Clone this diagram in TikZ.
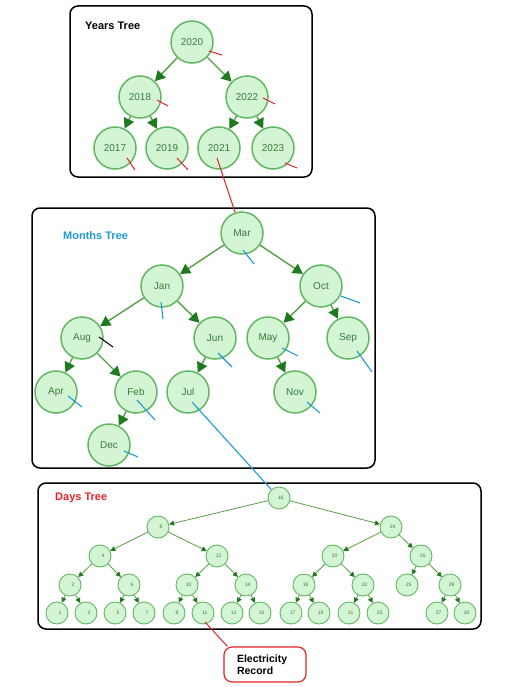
\documentclass[tikz,border=0pt]{standalone}
\usepackage{fontspec}
\setmainfont{Liberation Sans}
\usetikzlibrary{arrows.meta,calc}
\definecolor{nodefill}{HTML}{D3F5D3}
\definecolor{nodedraw}{HTML}{62B862}
\definecolor{nodetext}{HTML}{3A7A3A}
\definecolor{edgegreen}{HTML}{55A045}
\definecolor{headgreen}{HTML}{1E7A1E}
\definecolor{tickred}{HTML}{E52429}
\definecolor{tickblue}{HTML}{1E9BD7}
\begin{document}
\begin{tikzpicture}[x=1pt,y=-1pt,
 bignode/.style={circle, minimum size=42pt, inner sep=0pt, fill=nodefill, draw=nodedraw, line width=1.5pt, text=nodetext, font=\fontsize{10}{12}\selectfont},
 smallnode/.style={circle, minimum size=22pt, inner sep=0pt, fill=nodefill, draw=nodedraw, line width=0.9pt, text=nodetext, font=\fontsize{5}{6}\selectfont, text width=9pt, align=right},
 bigedge/.style={draw=edgegreen, line width=1.4pt, -{Triangle[length=10pt,width=11pt,color=headgreen]}},
 smalledge/.style={draw=edgegreen, line width=0.8pt, -{Triangle[length=5pt,width=5pt,color=headgreen]}},
 framebox/.style={draw=black, line width=1.5pt, rounded corners=8pt},
 redtick/.style={draw=tickred, line width=1pt},
 bluetick/.style={draw=tickblue, line width=1.1pt},
 blacktick/.style={draw=black, line width=1pt},
 treetitle/.style={font=\fontsize{11}{13}\selectfont\bfseries, anchor=west, inner sep=0pt},
 recbox/.style={draw=tickred, line width=1.2pt, rounded corners=8pt, fill=white, minimum width=82pt, minimum height=35pt, text width=56pt, align=left, font=\fontsize{10.5}{12.5}\selectfont\bfseries},
]
\useasboundingbox[fill=white] (0,0) rectangle (517,687);

% frames
\draw[framebox] (70,6) rectangle (312,177);
\draw[framebox] (32,208) rectangle (375,468);
\draw[framebox] (38,483) rectangle (481,629);

% titles
\node[treetitle, text=black] (tY) at (85,26) {Years Tree};
\node[treetitle, text=tickblue] (tM) at (63,236) {Months Tree};
\node[treetitle, text=tickred] (tD) at (55,498) {Days Tree};

% years
\node[bignode] (y2020) at (192,42) {2020};
\node[bignode] (y2018) at (140,97) {2018};
\node[bignode] (y2022) at (247,97) {2022};
\node[bignode] (y2017) at (115,148) {2017};
\node[bignode] (y2019) at (167,148) {2019};
\node[bignode] (y2021) at (219,148) {2021};
\node[bignode] (y2023) at (273,148) {2023};
\draw[bigedge] (y2020) -- (y2018);
\draw[bigedge] (y2020) -- (y2022);
\draw[bigedge] (y2018) -- (y2017);
\draw[bigedge] (y2018) -- (y2019);
\draw[bigedge] (y2022) -- (y2021);
\draw[bigedge] (y2022) -- (y2023);

% months
\node[bignode] (mMar) at (242,233) {Mar};
\node[bignode] (mJan) at (162,286) {Jan};
\node[bignode] (mOct) at (321,286) {Oct};
\node[bignode] (mAug) at (82,338) {Aug};
\node[bignode] (mJun) at (215,338) {Jun};
\node[bignode] (mMay) at (268,338) {May};
\node[bignode] (mSep) at (348,338) {Sep};
\node[bignode] (mApr) at (56,392) {Apr};
\node[bignode] (mFeb) at (136,392) {Feb};
\node[bignode] (mJul) at (188,392) {Jul};
\node[bignode] (mNov) at (295,392) {Nov};
\node[bignode] (mDec) at (109,445) {Dec};
\draw[bigedge] (mMar) -- (mJan);
\draw[bigedge] (mMar) -- (mOct);
\draw[bigedge] (mJan) -- (mAug);
\draw[bigedge] (mJan) -- (mJun);
\draw[bigedge] (mOct) -- (mMay);
\draw[bigedge] (mOct) -- (mSep);
\draw[bigedge] (mAug) -- (mApr);
\draw[bigedge] (mAug) -- (mFeb);
\draw[bigedge] (mFeb) -- (mDec);
\draw[bigedge] (mJun) -- (mJul);
\draw[bigedge] (mMay) -- (mNov);

% days
\node[smallnode] (d16) at (279,498) {16};
\node[smallnode] (d8) at (158,527) {8};
\node[smallnode] (d24) at (391,527) {24};
\node[smallnode] (d4) at (100,556) {4};
\node[smallnode] (d12) at (217,556) {12};
\node[smallnode] (d20) at (333,556) {20};
\node[smallnode] (d26) at (421,556) {26};
\node[smallnode] (d2) at (70,585) {2};
\node[smallnode] (d6) at (129,585) {6};
\node[smallnode] (d10) at (187,585) {10};
\node[smallnode] (d14) at (246,585) {14};
\node[smallnode] (d18) at (304,585) {18};
\node[smallnode] (d22) at (363,585) {22};
\node[smallnode] (d25) at (407,585) {25};
\node[smallnode] (d29) at (450,585) {29};
\node[smallnode] (d1) at (57,613) {1};
\node[smallnode] (d3) at (86,613) {3};
\node[smallnode] (d5) at (115,613) {5};
\node[smallnode] (d7) at (144,613) {7};
\node[smallnode] (d9) at (174,613) {9};
\node[smallnode] (d11) at (203,613) {11};
\node[smallnode] (d13) at (232,613) {13};
\node[smallnode] (d15) at (260,613) {15};
\node[smallnode] (d17) at (291,613) {17};
\node[smallnode] (d19) at (319,613) {19};
\node[smallnode] (d21) at (349,613) {21};
\node[smallnode] (d23) at (378,613) {23};
\node[smallnode] (d27) at (437,613) {27};
\node[smallnode] (d30) at (465,613) {30};
\foreach \p/\c in {16/8,16/24,8/4,8/12,4/2,4/6,12/10,12/14,24/20,24/26,20/18,20/22,26/25,26/29,2/1,2/3,6/5,6/7,10/9,10/11,14/13,14/15,18/17,18/19,22/21,22/23,29/27,29/30}
  \draw[smalledge] (d\p) -- (d\c);

% record
\node[recbox] (rec) at (265,664.5) {Electricity\\Record};

% red ticks (years)
\draw[redtick] ([shift={(17,9)}]y2020.center) -- ++(13,4);
\draw[redtick] ([shift={(17,3)}]y2018.center) -- ++(11,6);
\draw[redtick] ([shift={(16,1)}]y2022.center) -- ++(12,6);
\draw[redtick] ([shift={(12,10)}]y2017.center) -- ++(8,12);
\draw[redtick] ([shift={(10,10)}]y2019.center) -- ++(11,12);
\draw[redtick] ([shift={(12,15)}]y2023.center) -- ++(12,5);
\draw[redtick] ([shift={(-2,10)}]y2021.center) -- (mMar);

% blue ticks (months)
\draw[bluetick] ([shift={(1,17)}]mMar.center) -- ++(11,14);
\draw[bluetick] ([shift={(-1,16)}]mJan.center) -- ++(2,17);
\draw[bluetick] ([shift={(20,10)}]mOct.center) -- ++(19,7);
\draw[blacktick] ([shift={(17,-1)}]mAug.center) -- ++(14,10);
\draw[bluetick] ([shift={(3,15)}]mJun.center) -- ++(14,14);
\draw[bluetick] ([shift={(14,10)}]mMay.center) -- ++(16,8);
\draw[bluetick] ([shift={(9,13)}]mSep.center) -- ++(15,21);
\draw[bluetick] ([shift={(12,4)}]mApr.center) -- ++(14,11);
\draw[bluetick] ([shift={(1,8)}]mFeb.center) -- ++(18,20);
\draw[bluetick] ([shift={(12,10)}]mNov.center) -- ++(13,11);
\draw[bluetick] ([shift={(15,6)}]mDec.center) -- ++(14,6);
\draw[bluetick] ([shift={(4,10)}]mJul.center) -- (d16);

% red pointer (days)
\draw[redtick] ([shift={(2,9)}]d11.center) -- ([xshift=4pt]rec.north west);
\end{tikzpicture}
\end{document}
